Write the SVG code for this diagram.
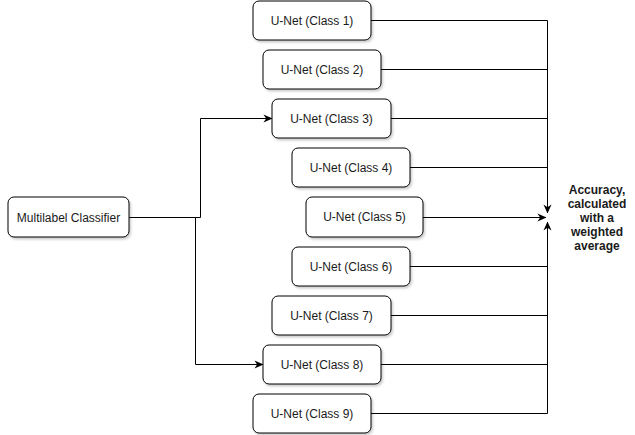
<svg xmlns="http://www.w3.org/2000/svg" width="635" height="435" viewBox="0 0 635 435">
<defs>
<filter id="sh" x="-10%" y="-10%" width="130%" height="140%">
<feDropShadow dx="1.5" dy="2" stdDeviation="1.2" flood-color="#000" flood-opacity="0.2"/>
</filter>
<marker id="ar" viewBox="0 0 10 10" refX="9.5" refY="5" markerWidth="9" markerHeight="9" markerUnits="userSpaceOnUse" orient="auto">
<path d="M0,0.5 L10,5 L0,9.5 L3,5 Z" fill="#000"/>
</marker>
<style>
.box{fill:#fff;stroke:#000;stroke-width:1;filter:url(#sh)}
.lbl{font-family:"Liberation Sans",Arial,sans-serif;font-size:12px;fill:#1a1a1a;text-anchor:middle;dominant-baseline:central}
.bold{font-family:"Liberation Sans",Arial,sans-serif;font-size:12px;font-weight:bold;fill:#1a1a1a;text-anchor:middle}
.e{fill:none;stroke:#000;stroke-width:1}
.ea{fill:none;stroke:#000;stroke-width:1;marker-end:url(#ar)}
</style>
</defs>
<rect width="635" height="435" fill="#fff"/>
<g id="connectors">
<path class="ea" d="M129.5,217.5 H200.5 V118.5 H272"/>
<path class="ea" d="M129.5,217.5 H195.5 V364.5 H263"/>
<path class="ea" d="M371,20.5 H547.5 V213"/>
<path class="e" d="M381,69.5 H547.5"/>
<path class="e" d="M391,118.5 H547.5"/>
<path class="e" d="M410,167.5 H547.5"/>
<path class="ea" d="M423,217.5 H546"/>
<path class="e" d="M410,266.5 H547.5"/>
<path class="e" d="M391,315.5 H547.5"/>
<path class="e" d="M381,364.5 H547.5"/>
<path class="ea" d="M371,413.5 H547.5 V222"/>
</g>
<g id="classifier">
<rect class="box" x="8" y="197" width="121" height="40" rx="6"/>
<text class="lbl" x="68.5" y="217.5">Multilabel Classifier</text>
</g>
<g id="unet1"><rect class="box" x="253" y="1" width="118" height="39" rx="6"/><text class="lbl" x="312" y="20.5">U-Net (Class 1)</text></g>
<g id="unet2"><rect class="box" x="263" y="50" width="118" height="39" rx="6"/><text class="lbl" x="322" y="69.5">U-Net (Class 2)</text></g>
<g id="unet3"><rect class="box" x="272" y="99" width="119" height="39" rx="6"/><text class="lbl" x="331.5" y="118.5">U-Net (Class 3)</text></g>
<g id="unet4"><rect class="box" x="292" y="148" width="118" height="39" rx="6"/><text class="lbl" x="351" y="167.5">U-Net (Class 4)</text></g>
<g id="unet5"><rect class="box" x="306" y="197" width="117" height="40" rx="6"/><text class="lbl" x="364.5" y="217">U-Net (Class 5)</text></g>
<g id="unet6"><rect class="box" x="292" y="247" width="118" height="39" rx="6"/><text class="lbl" x="351" y="266.5">U-Net (Class 6)</text></g>
<g id="unet7"><rect class="box" x="272" y="296" width="119" height="39" rx="6"/><text class="lbl" x="331.5" y="315.5">U-Net (Class 7)</text></g>
<g id="unet8"><rect class="box" x="263" y="345" width="118" height="39" rx="6"/><text class="lbl" x="322" y="364.5">U-Net (Class 8)</text></g>
<g id="unet9"><rect class="box" x="253" y="394" width="118" height="39" rx="6"/><text class="lbl" x="312" y="413.5">U-Net (Class 9)</text></g>
<g id="accuracy">
<text class="bold" x="597" y="194">Accuracy,</text>
<text class="bold" x="597" y="208">calculated</text>
<text class="bold" x="597" y="222">with a</text>
<text class="bold" x="597" y="236">weighted</text>
<text class="bold" x="597" y="250">average</text>
</g>
</svg>
